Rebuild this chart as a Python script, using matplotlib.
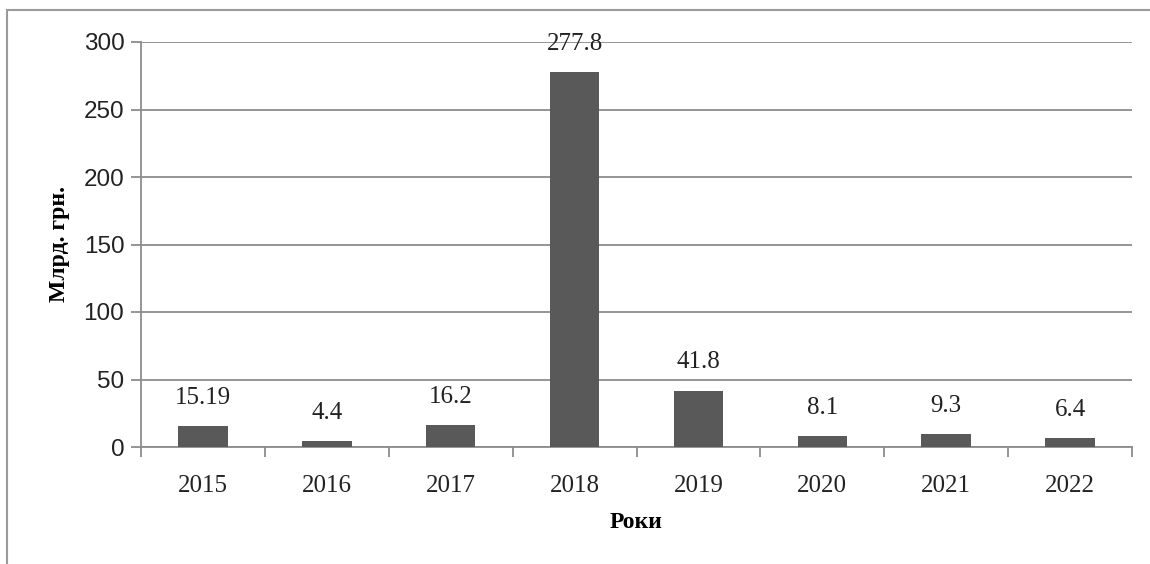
import numpy as np
import matplotlib.pyplot as plt
from matplotlib.patches import Rectangle

years = ['2015', '2016', '2017', '2018', '2019', '2020', '2021', '2022']
values = [15.19, 4.4, 16.2, 277.8, 41.8, 8.1, 9.3, 6.4]
labels = ['15.19', '4.4', '16.2', '277.8', '41.8', '8.1', '9.3', '6.4']

grid_col = '#8c8c8c'
bar_col = '#595959'
serif = ['Liberation Serif', 'DejaVu Serif']
sans = ['Liberation Sans', 'DejaVu Sans']

fig = plt.figure(figsize=(11.5, 5.64), dpi=100)
# outer frame (left and top edges visible, rest runs off the picture)
fig.patches.append(Rectangle((7/1150, -0.2), 1.5, 1 - 10/564 + 0.2, transform=fig.transFigure,
                             fill=False, edgecolor='#9a9a9a', linewidth=1.5))

ax = fig.add_axes([141/1150, 1 - 447/564, (1132 - 141)/1150, (447 - 42)/564])
x = np.arange(len(years))
ax.bar(x, values, width=0.4, color=bar_col, zorder=3)

for xi, v, lab in zip(x, values, labels):
    ax.annotate(lab, (xi, v), xytext=(0, 16), textcoords='offset points',
                ha='center', va='baseline', fontsize=18, family=serif, color='#222222')

ax.set_xlim(-0.5, len(years) - 0.5)
ax.set_ylim(0, 300)
ax.set_yticks(np.arange(0, 301, 50))
ax.yaxis.grid(True, color=grid_col, linewidth=1.3, zorder=0)
ax.set_axisbelow(True)

ax.set_xticks(x)
ax.set_xticklabels(years, fontsize=18, family=serif, color='#222222')
ax.set_xticks(np.arange(-0.5, len(years), 1), minor=True)
ax.tick_params(axis='x', which='major', length=0, pad=20)
ax.tick_params(axis='x', which='minor', length=7, width=1.3, color=grid_col)
ax.tick_params(axis='y', length=7, width=1.3, color=grid_col, labelcolor='#222222', pad=5)
for t in ax.get_yticklabels():
    t.set_family(sans)
    t.set_fontsize(17.5)

for s in ['top', 'right']:
    ax.spines[s].set_visible(False)
for s in ['left', 'bottom']:
    ax.spines[s].set_color(grid_col)
    ax.spines[s].set_linewidth(1.3)

ax.set_ylabel('Млрд. грн.', fontsize=17, family=serif, fontweight='bold', labelpad=10)
ax.set_xlabel('Роки', fontsize=17, family=serif, fontweight='bold', labelpad=11)

fig.savefig('out.png', dpi=100)
